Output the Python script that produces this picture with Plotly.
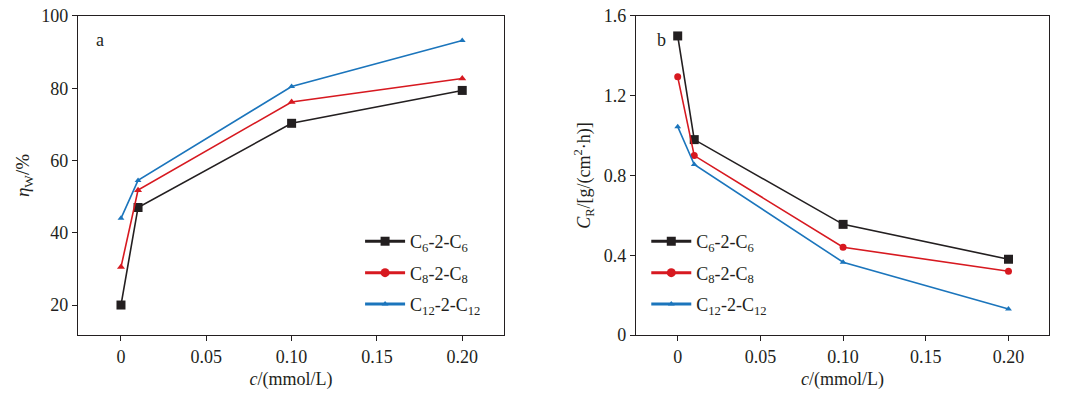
import plotly.graph_objects as go

conc = [0, 0.01, 0.10, 0.20]
series_names = ["C<sub>6</sub>-2-C<sub>6</sub>", "C<sub>8</sub>-2-C<sub>8</sub>", "C<sub>12</sub>-2-C<sub>12</sub>"]
eta_c6 = [20.0, 47.0, 70.3, 79.4]
eta_c8 = [30.5, 51.8, 76.2, 82.7]
eta_c12 = [44.0, 54.5, 80.5, 93.2]
cr_c6 = [1.50, 0.98, 0.555, 0.38]
cr_c8 = [1.295, 0.90, 0.44, 0.32]
cr_c12 = [1.045, 0.855, 0.365, 0.13]
x_tickvals = [0, 0.05, 0.10, 0.15, 0.20]
x_ticktext = ["0", "0.05", "0.10", "0.15", "0.20"]
yl_tickvals = [20, 40, 60, 80, 100]
yr_tickvals = [0, 0.4, 0.8, 1.2, 1.6]
yr_ticktext = ["0", "0.4", "0.8", "1.2", "1.6"]

colors = ["#231f20", "#d71920", "#1b75bc"]
legend_symbols = ["square", "circle", "triangle-up"]
legend_sizes = [9, 9, 6]
FONT = "Liberation Serif"

fig = go.Figure()

left_sets = [(eta_c6, "square", 9), (eta_c8, "triangle-up", 7), (eta_c12, "triangle-up", 6)]
for (ys, sym, sz), col in zip(left_sets, colors):
    fig.add_trace(go.Scatter(x=conc, y=ys, mode="lines+markers", xaxis="x", yaxis="y",
                             line=dict(color=col, width=1.6),
                             marker=dict(symbol=sym, size=sz, color=col),
                             showlegend=False, hoverinfo="skip"))
right_sets = [(cr_c6, "square", 9), (cr_c8, "circle", 7), (cr_c12, "triangle-up", 6)]
for (ys, sym, sz), col in zip(right_sets, colors):
    fig.add_trace(go.Scatter(x=conc, y=ys, mode="lines+markers", xaxis="x2", yaxis="y2",
                             line=dict(color=col, width=1.6),
                             marker=dict(symbol=sym, size=sz, color=col),
                             showlegend=False, hoverinfo="skip"))

for i, (name, col, sym, sz) in enumerate(zip(series_names, colors, legend_symbols, legend_sizes)):
    fig.add_trace(go.Scatter(x=[None], y=[None], mode="lines+markers", name=name,
                             xaxis="x", yaxis="y", legend="legend", legendgroup=f"a{i}",
                             line=dict(color=col, width=3),
                             marker=dict(symbol=sym, size=sz, color=col)))
    fig.add_trace(go.Scatter(x=[None], y=[None], mode="lines+markers", name=name,
                             xaxis="x2", yaxis="y2", legend="legend2", legendgroup=f"b{i}",
                             line=dict(color=col, width=3),
                             marker=dict(symbol=sym, size=sz, color=col)))

axis_common = dict(showgrid=False, zeroline=False, showline=True, linecolor="#231f20",
                   linewidth=1.2, mirror=True, ticks="outside", ticklen=5, tickwidth=1.2,
                   tickcolor="#231f20", automargin=False, ticklabeloverflow="allow",
                   tickfont=dict(family=FONT, size=18, color="#231f20"))

xrange = [-0.0252, 0.2245]
ydom = [0.1742, 0.9798]
fig.update_layout(
    width=1080, height=396,
    margin=dict(l=0, r=0, t=0, b=0),
    paper_bgcolor="white", plot_bgcolor="white",
    font=dict(family=FONT, color="#231f20"),
    xaxis=dict(axis_common, domain=[0.0648, 0.4593], range=xrange,
               tickvals=x_tickvals, ticktext=x_ticktext, anchor="y",
               title=dict(text="<i>c</i>/(mmol/L)", font=dict(family=FONT, size=18), standoff=6)),
    yaxis=dict(axis_common, domain=ydom, range=[11.7, 100],
               tickvals=yl_tickvals, anchor="x",
               title=dict(text="<i>η</i><sub>W</sub>/%", font=dict(family=FONT, size=19), standoff=6)),
    xaxis2=dict(axis_common, domain=[0.5815, 0.9639], range=xrange,
                tickvals=x_tickvals, ticktext=x_ticktext, anchor="y2",
                title=dict(text="<i>c</i>/(mmol/L)", font=dict(family=FONT, size=18), standoff=6)),
    yaxis2=dict(axis_common, domain=ydom, range=[0, 1.6],
                tickvals=yr_tickvals, ticktext=yr_ticktext, anchor="x2",
                title=dict(text="<i>C</i><sub>R</sub>/[g/(cm<sup>2</sup>·h)]", font=dict(family=FONT, size=18), standoff=8)),
    legend=dict(x=0.326, y=0.457, xanchor="left", yanchor="top", bgcolor="rgba(0,0,0,0)",
                font=dict(family=FONT, size=18), tracegroupgap=5, itemwidth=40),
    legend2=dict(x=0.591, y=0.457, xanchor="left", yanchor="top", bgcolor="rgba(0,0,0,0)",
                 font=dict(family=FONT, size=18), tracegroupgap=5, itemwidth=40),
    annotations=[
        dict(text="a", x=92 / 1080, y=1 - 32 / 396, xref="paper", yref="paper", showarrow=False,
             font=dict(family=FONT, size=18), xanchor="center", yanchor="middle"),
        dict(text="b", x=653 / 1080, y=1 - 32 / 396, xref="paper", yref="paper", showarrow=False,
             font=dict(family=FONT, size=18), xanchor="center", yanchor="middle"),
    ],
)

fig.write_html("out.html")
